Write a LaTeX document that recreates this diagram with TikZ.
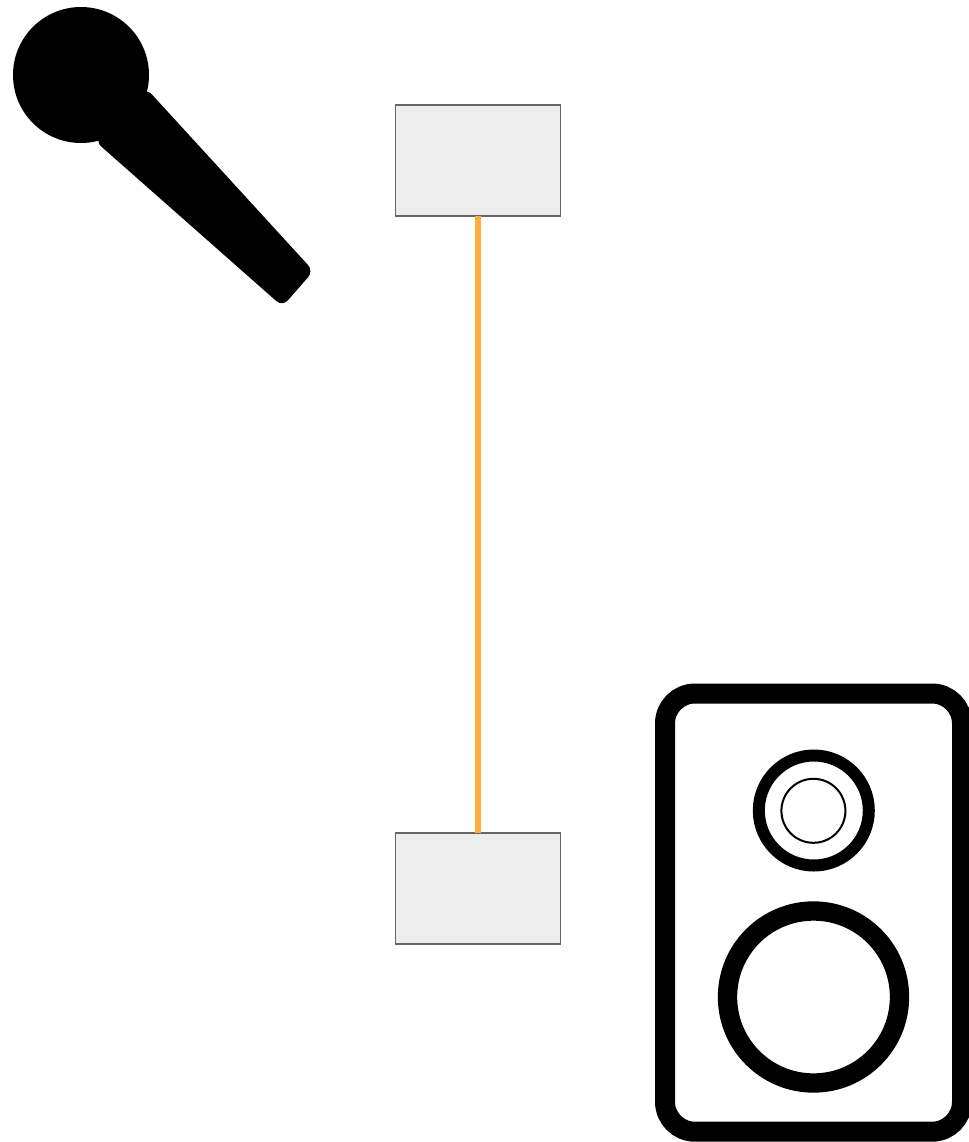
\documentclass[tikz,border=0pt]{standalone}
\usepackage{tikz}
\usetikzlibrary{positioning}

\begin{document}
\begin{tikzpicture}[
    x=0.75pt, y=-0.75pt,
    node distance=462.75pt,
    box/.style={rectangle, draw=black!60, fill=black!7, line width=1.1pt, outer sep=0pt, minimum width=123.75pt, minimum height=83.25pt},
    cable/.style={line width=4.5pt, draw={rgb,255:red,255;green,172;blue,63}},
    cone/.style={draw=black, line width=#1}
]
\useasboundingbox (0,0) rectangle (969,1142);

% mixer boxes and the cable
\node[box] (topbox) at (478,160.5) {};
\node[box, below=of topbox] (bottombox) {};
\draw[cable] (topbox) -- (bottombox);

% microphone
\fill[black] (81,75) circle[radius=68];
\fill[black, rounded corners=6pt] (146,88) -- (313.5,271) -- (282.5,306.5) -- (95,141) -- cycle;

% speaker
\draw[cone=15pt, rounded corners=22.5pt] (665,693.5) rectangle (962,1131.7);
\draw[cone=9pt] (813.8,810.5) circle[radius=55];
\draw[cone=1.5pt] (813.4,810.8) circle[radius=32];
\draw[cone=14.5pt] (813.5,997) circle[radius=86];
\end{tikzpicture}
\end{document}
